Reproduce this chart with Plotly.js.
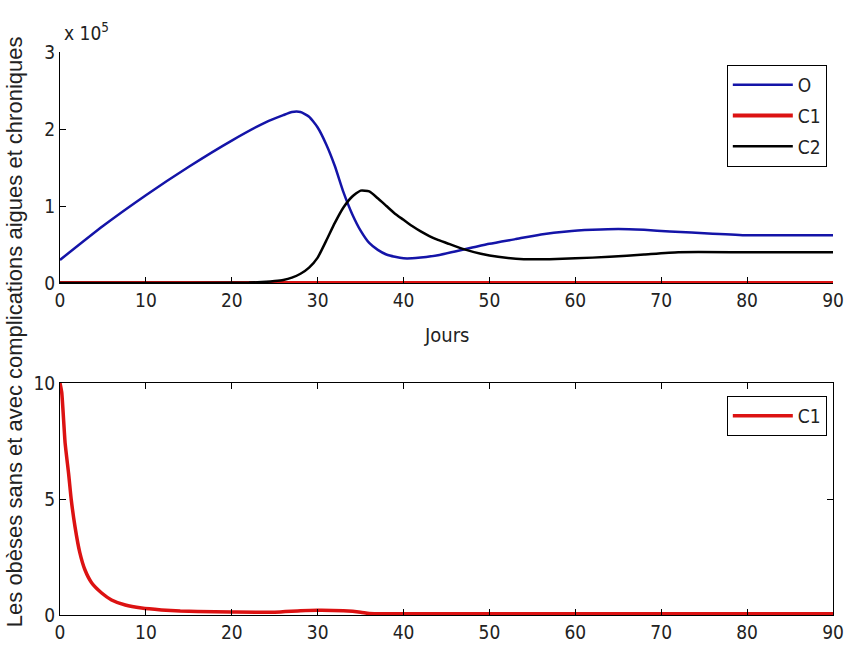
<!DOCTYPE html>
<html>
<head>
<meta charset="utf-8">
<script src="https://cdn.plot.ly/plotly-3.0.1.min.js"></script>
<style>html,body{margin:0;padding:0;background:#fff;}#chart{width:844px;height:657px;}</style>
</head>
<body>
<div id="chart"></div>
<script>
// ---- Data ----
const tO = [0, 5, 10, 15, 20, 24, 26, 27, 28, 29, 30, 31, 32, 33, 34, 35, 36, 37, 38, 39, 40, 41, 42, 44, 46, 48, 50, 53, 56, 59, 62, 65, 68, 71, 76, 80, 85, 90];
const O  = [30000, 74000, 114000, 151000, 185000, 209000, 218000, 222000, 222000, 216000, 202000, 180000, 152000, 118000, 90000, 68000, 52000, 43000, 37000, 34000, 32000, 32000, 33000, 36000, 41000, 46000, 51000, 57000, 63000, 67000, 69000, 70000, 69000, 67000, 64000, 62000, 62000, 62000];

const tC2 = [0, 10, 20, 22, 24, 25, 26, 27, 28, 29, 30, 31, 32, 33, 34, 35, 36, 37, 38, 39, 40, 41, 42, 43, 44, 45, 47, 49, 51, 54, 57, 60, 64, 68, 72, 80, 90];
const C2  = [0, 0, 200, 500, 1500, 2500, 4000, 7000, 12000, 20000, 33000, 55000, 78000, 98000, 112000, 120000, 119000, 110000, 100000, 90000, 82000, 74000, 67000, 61000, 56000, 52000, 44000, 38000, 34000, 31000, 31000, 32000, 34000, 37000, 40000, 40000, 40000];

const tC1 = [0, 0.2, 0.6, 1.0, 1.3, 1.75, 2.3, 2.9, 3.7, 4.85, 6.0, 7.6, 9.5, 11.8, 14, 16, 20, 25, 28, 30, 33, 35, 36, 40, 50, 60, 70, 80, 90];
const C1  = [10, 9.6, 7.4, 6.1, 5.0, 3.8, 2.7, 1.95, 1.38, 0.95, 0.65, 0.43, 0.3, 0.22, 0.17, 0.15, 0.13, 0.12, 0.18, 0.2, 0.18, 0.12, 0.06, 0.05, 0.05, 0.05, 0.05, 0.05, 0.05];

const xTicks = [0, 10, 20, 30, 40, 50, 60, 70, 80, 90];
const yTopTicks = [0, 100000, 200000, 300000];
const yTopText = ['0', '1', '2', '3'];
const yBotTicks = [0, 5, 10];

const NARROW = 'Liberation Sans Narrow, Arial Narrow, DejaVu Sans Condensed, sans-serif';
const REG = 'Liberation Sans, Arial, sans-serif';
const BLUE = '#1414a8', RED = '#dc1212', BLACK = '#000000';

const traces = [
  {x: tO, y: O, name: 'O', type: 'scatter', mode: 'lines', line: {color: BLUE, width: 2.5, shape: 'spline', smoothing: 0.5}, xaxis: 'x', yaxis: 'y', legend: 'legend', legendgroup: 'a'},
  {x: tC1, y: C1, name: 'C1', type: 'scatter', mode: 'lines', line: {color: RED, width: 4, shape: 'spline', smoothing: 0.5}, xaxis: 'x', yaxis: 'y', legend: 'legend', legendgroup: 'b'},
  {x: tC2, y: C2, name: 'C2', type: 'scatter', mode: 'lines', line: {color: BLACK, width: 2.5, shape: 'spline', smoothing: 0.5}, xaxis: 'x', yaxis: 'y', legend: 'legend', legendgroup: 'c'},
  {x: tC1, y: C1, name: 'C1', type: 'scatter', mode: 'lines', line: {color: RED, width: 3.5, shape: 'spline', smoothing: 0.5}, xaxis: 'x2', yaxis: 'y2', legend: 'legend2'}
];

const axisCommon = {
  showgrid: false, zeroline: false, showline: true, linecolor: '#000', linewidth: 1,
  ticks: 'inside', ticklen: 6, tickcolor: '#000', tickwidth: 1,
  tickfont: {family: NARROW, size: 19, color: '#222'}
};

const layout = {
  width: 844, height: 657,
  margin: {l: 60, r: 11, t: 52, b: 42},
  paper_bgcolor: '#fff', plot_bgcolor: '#fff',
  showlegend: true,
  xaxis: Object.assign({}, axisCommon, {domain: [0, 1], range: [0, 90], tickvals: xTicks, anchor: 'y', mirror: false, ticklabeloverflow: 'allow'}),
  yaxis: Object.assign({}, axisCommon, {domain: [0.5897, 1], range: [0, 300000], tickvals: yTopTicks, ticktext: yTopText, anchor: 'x', mirror: false}),
  xaxis2: Object.assign({}, axisCommon, {domain: [0, 1], range: [0, 90], tickvals: xTicks, anchor: 'y2', mirror: 'ticks', ticklabeloverflow: 'allow'}),
  yaxis2: Object.assign({}, axisCommon, {domain: [0, 0.412], range: [0, 10], tickvals: yBotTicks, anchor: 'x2', mirror: 'ticks'}),
  legend: {x: 0.992, y: 0.977, xanchor: 'right', yanchor: 'top', bordercolor: '#000', borderwidth: 1, bgcolor: '#fff',
           font: {family: NARROW, size: 19, color: '#222'}, tracegroupgap: 3, traceorder: 'grouped', itemwidth: 60, entrywidth: 40},
  legend2: {x: 0.992, y: 0.389, xanchor: 'right', yanchor: 'top', bordercolor: '#000', borderwidth: 1, bgcolor: '#fff',
            font: {family: NARROW, size: 19, color: '#222'}, itemwidth: 60, entrywidth: 40},
  annotations: [
    {text: 'Les obèses sans et avec complications aigues et chroniques', xref: 'paper', yref: 'paper', x: -0.059, y: 0.503,
     xanchor: 'center', yanchor: 'middle', textangle: -90, showarrow: false, font: {family: REG, size: 22, color: '#222'}},
    {text: 'Jours', xref: 'paper', yref: 'paper', x: 0.5006, y: 0.497, xanchor: 'center', yanchor: 'middle', showarrow: false,
     font: {family: NARROW, size: 20, color: '#222'}},
    {text: 'x 10<sup>5</sup>', xref: 'paper', yref: 'paper', x: 0.0026, y: 1.035, xanchor: 'left', yanchor: 'middle', showarrow: false,
     font: {family: NARROW, size: 19, color: '#222'}}
  ]
};

Plotly.newPlot('chart', traces, layout, {displayModeBar: false, staticPlot: true});
</script>
</body>
</html>
